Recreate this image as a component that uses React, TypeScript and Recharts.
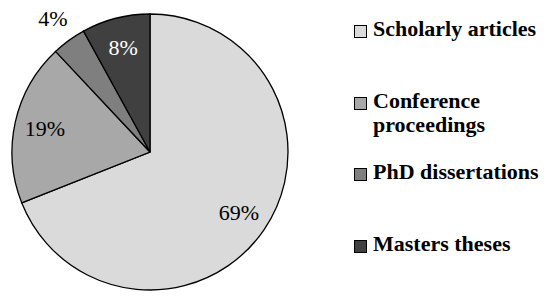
import { PieChart, Pie, Cell, Legend } from "recharts";

const categories: string[] = ["Scholarly articles", "Conference proceedings", "PhD dissertations", "Masters theses"];
const shares: number[] = [69, 19, 4, 8];
const percentLabels: string[] = ["69%", "19%", "4%", "8%"];

const fills = ["#dadada", "#a8a8a8", "#7f7f7f", "#404040"];
const labelInk = ["#000", "#000", "#000", "#fff"];

const data = categories.map((name, i) => ({ name, value: shares[i], label: percentLabels[i] }));

const RADIAN = Math.PI / 180;
const FONT = "Liberation Serif, serif";

const renderLabel = (props: any) => {
  const { cx, cy, midAngle, outerRadius, percent, index } = props;
  // small slices get their label outside the pie
  const r = percent < 0.05 ? outerRadius + 27 : outerRadius * 0.78;
  const x = cx + r * Math.cos(-midAngle * RADIAN);
  const y = cy + r * Math.sin(-midAngle * RADIAN);
  return (
    <text
      x={x}
      y={y}
      fill={labelInk[index]}
      textAnchor="middle"
      dominantBaseline="central"
      fontFamily={FONT}
      fontSize={22}
    >
      {data[index].label}
    </text>
  );
};

// legend drawn in data order (recharts would sort the payload)
const renderLegend = () => {
  const rowTops = [25, 97, 168, 240];
  return (
    <div style={{ position: "relative", width: 196, height: 296 }}>
      {categories.map((name, i) => (
        <div key={name}>
          <div
            style={{
              position: "absolute",
              left: 0,
              top: rowTops[i],
              width: 11,
              height: 11,
              background: fills[i],
              border: "1px solid #000",
            }}
          />
          <div
            style={{
              position: "absolute",
              left: 19,
              top: rowTops[i] - 8,
              width: 176,
              fontFamily: FONT,
              fontWeight: "bold",
              fontSize: 22,
              lineHeight: "24px",
              color: "#000",
            }}
          >
            {name}
          </div>
        </div>
      ))}
    </div>
  );
};

export default function App() {
  return (
    <div style={{ position: "absolute", left: 0, top: 0, width: 550, height: 296, background: "#fff" }}>
      <PieChart width={550} height={296} margin={{ top: 0, right: 0, bottom: 0, left: 0 }}>
        <Pie
          data={data}
          dataKey="value"
          nameKey="name"
          cx={150}
          cy={152}
          outerRadius={138}
          startAngle={90}
          endAngle={-270}
          stroke="#000"
          strokeWidth={1.3}
          label={renderLabel}
          labelLine={false}
          isAnimationActive={false}
        >
          {data.map((d, i) => (
            <Cell key={d.name} fill={fills[i]} />
          ))}
        </Pie>
        <Legend
          layout="vertical"
          align="right"
          verticalAlign="top"
          content={renderLegend}
          wrapperStyle={{ position: "absolute", left: 354, top: 0, width: 196 }}
        />
      </PieChart>
    </div>
  );
}
